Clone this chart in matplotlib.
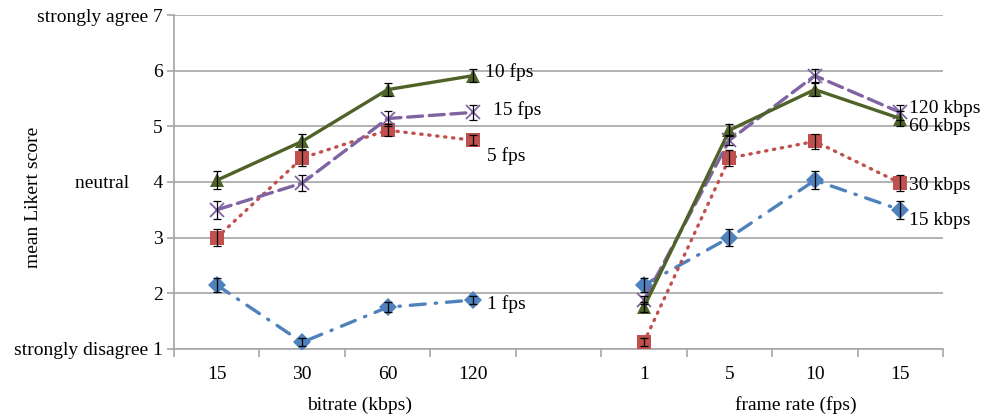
import numpy as np
import matplotlib.pyplot as plt
from matplotlib.transforms import blended_transform_factory

plt.rcParams['font.family'] = ['Liberation Serif', 'DejaVu Serif']

# data: mean Likert score, rows = frame rate, columns = bitrate
bitrates = ["15", "30", "60", "120"]
framerates = ["1", "5", "10", "15"]
fps1 = [2.15, 1.12, 1.75, 1.88]
fps5 = [3.00, 4.43, 4.93, 4.75]
fps10 = [4.03, 4.73, 5.66, 5.91]
fps15 = [3.50, 3.98, 5.14, 5.25]
err1 = [0.13, 0.07, 0.09, 0.08]
err5 = [0.15, 0.14, 0.11, 0.09]
err10 = [0.16, 0.14, 0.12, 0.12]
err15 = [0.16, 0.15, 0.14, 0.14]
fps_labels = ["1 fps", "5 fps", "10 fps", "15 fps"]
kbps_labels = ["15 kbps", "30 kbps", "60 kbps", "120 kbps"]

means = np.array([fps1, fps5, fps10, fps15])
errs = np.array([err1, err5, err10, err15])

colors = ["#4F81BD", "#C0504D", "#4F6228", "#8064A2"]
styles = [(0, (4.5, 3, 0.4, 3)), (0, (0.4, 2.0)), "-", (0, (4.5, 2.0))]
markers = ["D", "s", "^", "x"]
msizes = [9, 10, 10, 10]
zorders = [3, 4, 6, 5]
fs = 14
# offsets (pixels) of end labels
off_left = [(14, -4), (14, -16), (12, 4), (20, 2)]
off_right = [(9, -11), (9, -2), (9, -8), (9, 4)]

fig = plt.figure(figsize=(9.87, 4.19), dpi=100)
ax = fig.add_axes([0.1763, 0.1671, 0.9554 - 0.1763, 0.9642 - 0.1671])

xl = np.arange(4)          # bitrate group
xr = np.arange(4) + 5      # frame rate group

for i in range(4):
    mew = 1.3 if markers[i] == "x" else 0
    # left: x = bitrate, one line per frame rate
    ax.plot(xl, means[i], color=colors[i], linestyle=styles[i], lw=2.4,
            marker=markers[i], ms=msizes[i], mew=mew,
            dash_capstyle='round', zorder=zorders[i])
    ax.errorbar(xl, means[i], yerr=errs[i], fmt='none', ecolor='black',
                elinewidth=0.9, capsize=3, capthick=0.9, zorder=7)
    ax.annotate(fps_labels[i], xy=(xl[-1], means[i][-1]), xytext=off_left[i],
                textcoords='offset pixels', va='center', ha='left', fontsize=fs)
    # right: x = frame rate, one line per bitrate
    ax.plot(xr, means[:, i], color=colors[i], linestyle=styles[i], lw=2.4,
            marker=markers[i], ms=msizes[i], mew=mew,
            dash_capstyle='round', zorder=zorders[i])
    ax.errorbar(xr, means[:, i], yerr=errs[:, i], fmt='none', ecolor='black',
                elinewidth=0.9, capsize=3, capthick=0.9, zorder=7)
    ax.annotate(kbps_labels[i], xy=(xr[-1], means[-1][i]), xytext=off_right[i],
                textcoords='offset pixels', va='center', ha='left', fontsize=fs)

ax.set_xlim(-0.5, 8.5)
ax.set_ylim(1, 7)

gray = "#A6A6A6"
ax.set_yticks(range(1, 8))
ax.set_yticklabels(["strongly disagree 1", "2", "3", "neutral     4", "5", "6",
                    "strongly agree 7"], fontsize=fs)
ax.set_xticks(np.arange(-0.5, 9, 1))
ax.set_xticklabels([])
ax.set_xticks(list(xl) + list(xr), minor=True)
ax.set_xticklabels(bitrates + framerates, minor=True, fontsize=fs)
ax.tick_params(axis='x', which='major', length=6, color=gray, width=1.2)
ax.tick_params(axis='x', which='minor', length=0, pad=12)
ax.tick_params(axis='y', length=5, color=gray, width=1.2, pad=3)

ax.grid(axis='y', color=gray, lw=1.2)
ax.set_axisbelow(True)
for s in ["top", "right"]:
    ax.spines[s].set_visible(False)
for s in ["left", "bottom"]:
    ax.spines[s].set_color(gray)
    ax.spines[s].set_linewidth(1.2)

fig.text(34 / 987, 1 - 197 / 419, "mean Likert score", rotation=90,
         ha='center', va='center', fontsize=fs)
tr = blended_transform_factory(ax.transData, fig.transFigure)
ax.text(1.67, 1 - 405 / 419, "bitrate (kbps)", transform=tr, ha='center', va='center', fontsize=fs)
ax.text(6.78, 1 - 405 / 419, "frame rate (fps)", transform=tr, ha='center', va='center', fontsize=fs)

fig.savefig("out.png", dpi=100)
